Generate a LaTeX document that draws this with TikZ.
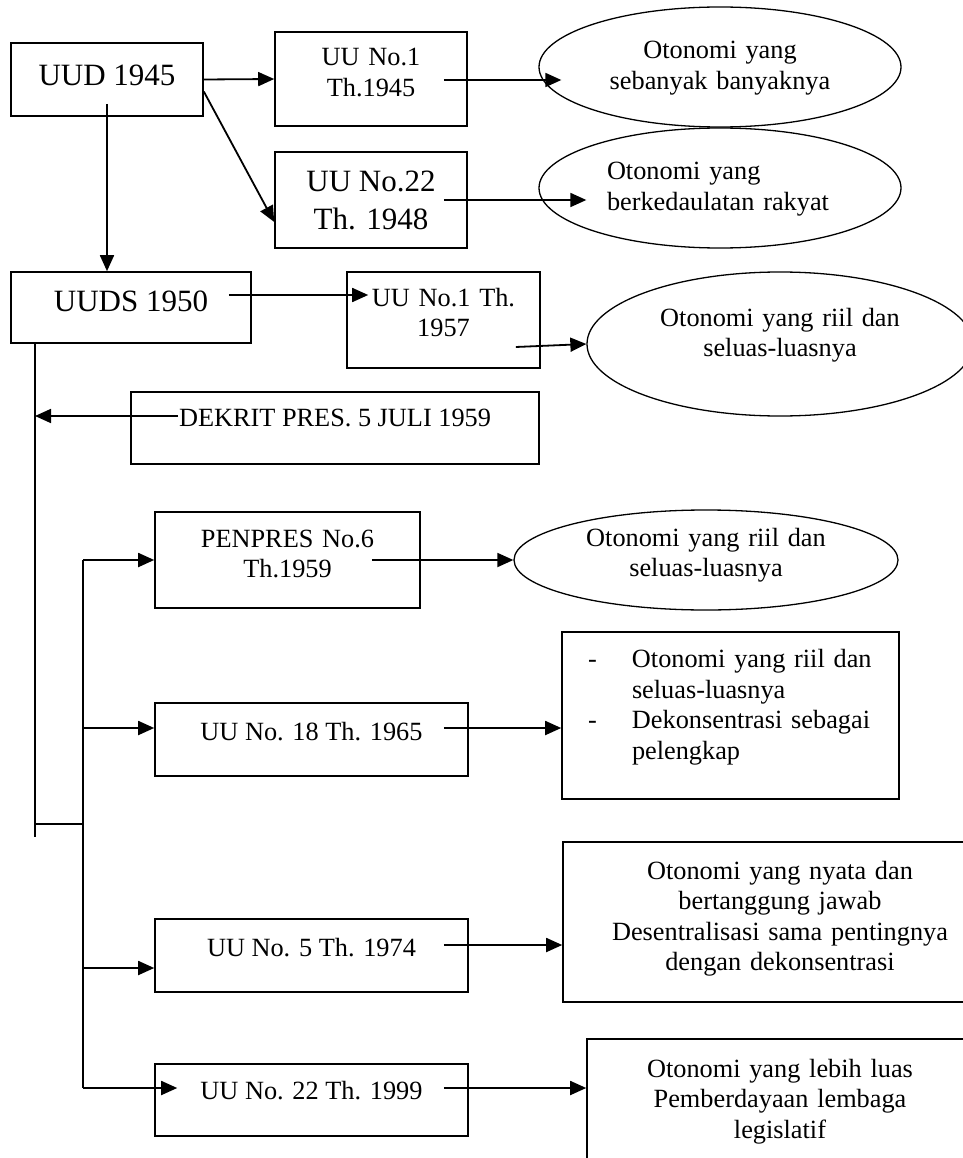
\documentclass[tikz,border=0pt]{standalone}
\usepackage{fontspec}
\setmainfont{Liberation Serif}
\usetikzlibrary{arrows.meta,calc,shapes.geometric}

\begin{document}
\begin{tikzpicture}[x=1pt,y=-1pt,
      box/.style={draw,rectangle,line width=1.6pt,inner sep=0pt,align=center,font=\fontsize{26.3}{30.5}\selectfont},
      oval/.style={draw,ellipse,line width=1.3pt,inner sep=0pt,align=center,font=\fontsize{26.3}{30.5}\selectfont},
      big/.style={font=\fontsize{31}{38}\selectfont},
      wh/.style 2 args={minimum width=#1pt,minimum height=#2pt},
      lift/.style={text height=18pt,text depth=#1pt},
      arr/.style={line width=1.8pt,-{Triangle[length=16pt,width=14pt]}},
      rail/.style={line width=1.8pt}]
      \useasboundingbox (0,0) rectangle (962,1158);
      \node[box,big,wh={192}{73},lift=6.6] (uud) at (107,79.5) {UUD 1945};
      \node[box,wh={192}{94},lift=44,text width=170pt] (uu1) at (371,79) {UU No.1\\Th.1945};
      \node[box,big,wh={192}{96}] (uu22) at (371,200) {UU No.22\\Th. 1948};
      \node[box,big,wh={240}{71},lift=10.6] (uuds) at (131,307.5) {UUDS 1950};
      \node[box,wh={193}{96},lift=46,text width=180pt] (uu57) at (443.5,320) {UU No.1 Th.\\1957};
      \node[box,wh={408}{72},lift=20.6] (dekrit) at (335,428) {DEKRIT PRES. 5 JULI 1959};
      \node[box,wh={265}{96},lift=44,text width=240pt] (penpres) at (287.5,560) {PENPRES No.6\\Th.1959};
      \node[box,wh={313}{73},lift=15.6] (uu18) at (311.5,739.5) {UU No. 18 Th. 1965};
      \node[box,wh={313}{73},lift=15.6] (uu5) at (311.5,955.5) {UU No. 5 Th. 1974};
      \node[box,wh={313}{72},lift=18.6] (uu99) at (311.5,1100) {UU No. 22 Th. 1999};
      \node[oval,wh={362}{120},lift=34.6,text width=230pt] (e1) at (720,67) {Otonomi yang\\sebanyak banyaknya};
      \node[oval,wh={362}{120},lift=34,align=left,text width=226pt] (e2) at (720,188) {Otonomi yang\\berkedaulatan rakyat};
      \node[oval,wh={386}{144},lift=54,text width=250pt] (e3) at (780,344) {Otonomi yang riil dan\\seluas-luasnya};
      \node[oval,wh={384}{100},lift=46,text width=250pt] (e4) at (706,560) {Otonomi yang riil dan\\seluas-luasnya};
      \node[box,wh={337}{167},lift=114,align=left,text width=285pt] (r18) at (730.5,715.5)
            {\makebox[44pt][l]{-}Otonomi yang riil dan\\\hspace*{44pt}seluas-luasnya\\
             \makebox[44pt][l]{-}Dekonsentrasi sebagai\\\hspace*{44pt}pelengkap};
      \node[box,wh={434}{160},lift=104,text width=400pt] (r5) at (780,922)
            {Otonomi yang nyata dan\\bertanggung jawab\\Desentralisasi sama pentingnya\\dengan dekonsentrasi};
      \node[box,wh={386}{126},lift=68,text width=360pt] (r99) at (780,1102)
            {Otonomi yang lebih luas\\Pemberdayaan lembaga\\legislatif};

      \draw[arr] (uud.east) -- (uu1.west);
      \draw[arr] ($(uud.east)+(0,12)$) -- ($(uu22.west)+(0,22)$);
      \coordinate (down) at ($(uud.south)+(0,-13)$);
      \draw[arr] (down) -- (down |- uuds.north);
      \draw[arr] ($(uu1.east)+(-24,1)$) -- ($(e1.west)+(23,13)$);
      \draw[arr] ($(uu22.east)+(-24,0)$) -- ($(e2.west)+(48,12)$);
      \draw[arr] ($(uuds.east)+(-23,-12.5)$) -- ($(uu57.west)+(22,-25)$);
      \draw[arr] ($(uu57.east)+(-25,27)$) -- (e3.west);

      \coordinate (trunkend) at (35,837);
      \coordinate (knot) at (35,824);
      \coordinate (branchtop) at (83,560);
      \coordinate (branchend) at (83,1088);
      \draw[rail] (uuds.south -| trunkend) -- (trunkend);
      \draw[rail] (knot) -- (knot -| branchtop);
      \draw[rail] (branchtop) -- (branchend);
      \coordinate (dk) at ($(dekrit.west)+(48,-12)$);
      \draw[arr] (dk) -- (dk -| trunkend);

      \coordinate (in18) at ($(uu18.west)+(0,-11.5)$);
      \coordinate (in5) at ($(uu5.west)+(0,12.5)$);
      \coordinate (in99) at ($(uu99.west)+(23,-12)$);
      \draw[arr] (branchtop) -- (penpres.west);
      \draw[arr] (in18 -| branchtop) -- (in18);
      \draw[arr] (in5 -| branchtop) -- (in5);
      \draw[arr] (branchend) -- (in99);

      \coordinate (out18) at ($(uu18.east)+(-25,-11.5)$);
      \coordinate (out5) at ($(uu5.east)+(-25,-10.5)$);
      \coordinate (out99) at ($(uu99.east)+(-25,-12)$);
      \draw[arr] ($(penpres.east)+(-49,0)$) -- (e4.west);
      \draw[arr] (out18) -- (out18 -| r18.west);
      \draw[arr] (out5) -- (out5 -| r5.west);
      \draw[arr] (out99) -- (out99 -| r99.west);
\end{tikzpicture}
\end{document}
